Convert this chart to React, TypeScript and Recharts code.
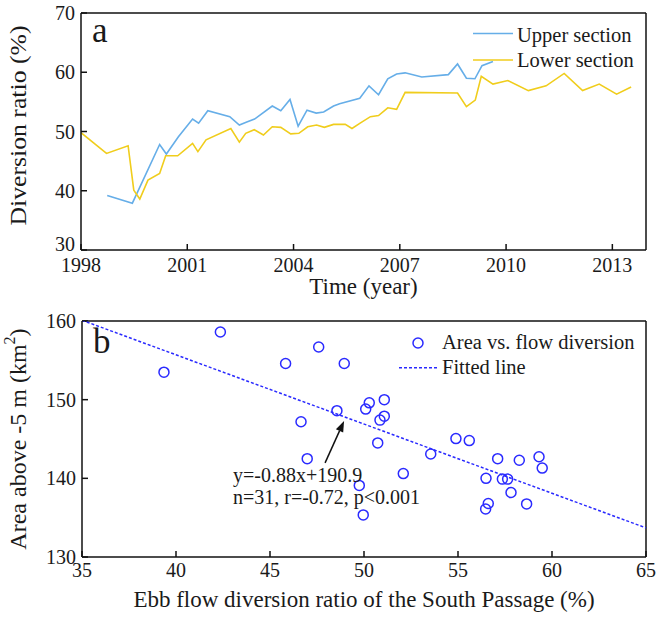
import React from 'react';
import {
  LineChart,
  Line,
  XAxis,
  YAxis,
  ComposedChart,
  Scatter,
  Legend,
  ReferenceLine,
  ReferenceDot,
} from 'recharts';

// ---------- Panel a data ----------
const upperYears = [1998.74, 1999.45, 2000.22, 2000.41, 2000.75, 2001.15, 2001.32, 2001.58, 2002.2, 2002.47, 2002.68, 2002.9, 2003.4, 2003.64, 2003.9, 2004.13, 2004.38, 2004.64, 2004.85, 2005.13, 2005.3, 2005.87, 2006.13, 2006.4, 2006.66, 2006.91, 2007.15, 2007.62, 2008.37, 2008.63, 2008.88, 2009.12, 2009.32, 2009.63];
const upperValues = [39.2, 37.9, 47.8, 46.2, 49.1, 52.1, 51.4, 53.5, 52.5, 51.1, 51.6, 52.1, 54.3, 53.5, 55.4, 50.9, 53.6, 53.1, 53.3, 54.3, 54.7, 55.6, 57.7, 56.2, 58.9, 59.7, 59.9, 59.2, 59.6, 61.4, 59.0, 58.9, 61.1, 61.8];

const lowerYears = [1998.0, 1998.72, 1999.33, 1999.49, 1999.66, 1999.89, 2000.22, 2000.39, 2000.73, 2001.15, 2001.3, 2001.53, 2002.23, 2002.47, 2002.65, 2002.89, 2003.15, 2003.4, 2003.64, 2003.92, 2004.15, 2004.4, 2004.65, 2004.87, 2005.13, 2005.46, 2005.65, 2005.88, 2006.17, 2006.4, 2006.66, 2006.91, 2007.15, 2008.63, 2008.88, 2009.13, 2009.3, 2009.63, 2010.05, 2010.63, 2011.13, 2011.64, 2012.16, 2012.63, 2013.12, 2013.53];
const lowerValues = [49.8, 46.3, 47.6, 40.1, 38.6, 41.8, 42.9, 45.9, 45.9, 48.0, 46.6, 48.6, 50.5, 48.2, 49.7, 50.3, 49.4, 50.8, 50.7, 49.6, 49.7, 50.8, 51.1, 50.7, 51.2, 51.2, 50.5, 51.4, 52.5, 52.7, 54.0, 53.75, 56.6, 56.5, 54.2, 55.3, 59.3, 58.0, 58.6, 56.9, 57.7, 59.8, 56.9, 58.0, 56.3, 57.5];

const yearTicks = [1998, 2001, 2004, 2007, 2010, 2013];
const ratioTicks = [30, 40, 50, 60, 70];

// ---------- Panel b data ----------
const flowRatios = [39.36, 42.36, 45.83, 47.59, 48.95, 46.65, 48.56, 46.98, 50.28, 50.09, 51.08, 51.08, 50.85, 50.73, 52.09, 49.75, 49.96, 53.55, 54.89, 55.6, 57.11, 56.49, 57.36, 57.64, 57.82, 58.26, 58.65, 56.61, 56.47, 59.31, 59.48];
const areas = [153.5, 158.6, 154.6, 156.7, 154.6, 147.2, 148.6, 142.5, 149.6, 148.8, 150.0, 147.9, 147.4, 144.5, 140.6, 139.1, 135.35, 143.1, 145.05, 144.8, 142.5, 140.0, 139.9, 139.9, 138.2, 142.3, 136.75, 136.8, 136.1, 142.75, 141.3];

const fitSlope = -0.88;
const fitIntercept = 190.9;
const fitX = [35, 65];

const flowTicks = [35, 40, 45, 50, 55, 60, 65];
const areaTicks = [130, 140, 150, 160];

// ---------- built tables ----------
const upperData = upperYears.map((y, i) => ({ year: y, v: upperValues[i] }));
const lowerData = lowerYears.map((y, i) => ({ year: y, v: lowerValues[i] }));
const scatterData = flowRatios.map((x, i) => ({ x, y: areas[i] }));
const fitData = fitX.map((x) => ({ x, y: fitSlope * x + fitIntercept }));

// ---------- styles ----------
const FONT = '"Liberation Serif", "Times New Roman", Times, serif';
const TXT = '#1a1a1a';
const BLUE = '#66aee8';
const YELLOW = '#f0cd1c';
const MARK = '#2a2aff';
const AX = '#111';

const tickStyle = { fill: TXT, fontSize: 20, fontFamily: FONT };

// left tick of panel a: lowest label lifted slightly so it clears the year labels
const RatioTick = (p: any) => {
  const lift = p.payload && p.payload.value === ratioTicks[0] ? -6 : 0;
  return (
    <text
      x={p.x}
      y={p.y + lift}
      textAnchor="end"
      dominantBaseline="central"
      fill={TXT}
      fontSize={20}
      fontFamily={FONT}
    >
      {p.payload ? p.payload.value : ''}
    </text>
  );
};

const yLabel = (content: React.ReactNode, shift: number, textLength?: number) => (props: any) => {
  const vb = props.viewBox || {};
  const cx = 18;
  const cy = vb.y + vb.height / 2 + shift;
  const extra: any = textLength ? { textLength, lengthAdjust: 'spacingAndGlyphs' } : {};
  return (
    <text
      x={cx}
      y={cy}
      transform={`rotate(-90, ${cx}, ${cy})`}
      textAnchor="middle"
      dominantBaseline="central"
      fill={TXT}
      fontSize={24}
      fontFamily={FONT}
      {...extra}
    >
      {content}
    </text>
  );
};

const xLabel = (text: string, dy: number) => (props: any) => {
  const vb = props.viewBox || {};
  return (
    <text
      x={vb.x + vb.width / 2}
      y={vb.y + dy}
      textAnchor="middle"
      fill={TXT}
      fontSize={23}
      fontFamily={FONT}
    >
      {text}
    </text>
  );
};

const Arrow = (p: any) => {
  const { x1, y1, x2, y2 } = p;
  const dx = x2 - x1;
  const dy = y2 - y1;
  const len = Math.hypot(dx, dy) || 1;
  const ux = dx / len;
  const uy = dy / len;
  const hl = 11;
  const hw = 4;
  const bx = x2 - ux * hl;
  const by = y2 - uy * hl;
  const px = -uy;
  const py = ux;
  return (
    <g>
      <line x1={x1} y1={y1} x2={bx} y2={by} stroke={AX} strokeWidth={1.5} />
      <polygon
        points={`${x2},${y2} ${bx + px * hw},${by + py * hw} ${bx - px * hw},${by - py * hw}`}
        fill={AX}
      />
    </g>
  );
};

const OpenCircle = (p: any) => (
  <circle cx={p.cx} cy={p.cy} r={5} fill="none" stroke={MARK} strokeWidth={1.5} />
);

const TopLegend = () => (
  <svg width={190} height={56} style={{ display: 'block' }}>
    <line x1={5} y1={15.5} x2={45} y2={15.5} stroke={BLUE} strokeWidth={1.6} />
    <text x={49} y={24} fill={TXT} fontSize={20.5} fontFamily={FONT}>
      Upper section
    </text>
    <line x1={5} y1={42} x2={45} y2={42} stroke={YELLOW} strokeWidth={1.6} />
    <text x={49} y={49} fill={TXT} fontSize={20.5} fontFamily={FONT}>
      Lower section
    </text>
  </svg>
);

const BottomLegend = () => (
  <svg width={262} height={56} style={{ display: 'block' }}>
    <circle cx={28} cy={18} r={5} fill="none" stroke={MARK} strokeWidth={1.5} />
    <text x={52} y={24} fill={TXT} fontSize={20.5} fontFamily={FONT}>
      Area vs. flow diversion
    </text>
    <line x1={9} y1={42.7} x2={48} y2={42.7} stroke={MARK} strokeWidth={1.5} strokeDasharray="3 2" />
    <text x={52} y={49} fill={TXT} fontSize={20.5} fontFamily={FONT}>
      Fitted line
    </text>
  </svg>
);

export default function App() {
  return (
    <div style={{ position: 'absolute', left: 0, top: 0, width: 658, height: 617, background: '#fff' }}>
      {/* Panel a */}
      <div style={{ position: 'absolute', left: 0, top: 0 }}>
        <LineChart width={658} height={300} margin={{ top: 12, right: 11, left: 0, bottom: 0 }}>
          <XAxis
            xAxisId={0}
            type="number"
            dataKey="year"
            domain={[1998, 2013.95]}
            allowDataOverflow
            ticks={yearTicks}
            height={50}
            tickSize={-6}
            tickMargin={14}
            tick={tickStyle}
            axisLine={{ stroke: AX, strokeWidth: 1.5 }}
            tickLine={{ stroke: AX, strokeWidth: 1.5 }}
            label={xLabel('Time (year)', 44)}
          />
          <XAxis
            xAxisId="top"
            orientation="top"
            type="number"
            dataKey="year"
            domain={[1998, 2013.95]}
            allowDataOverflow
            ticks={yearTicks}
            height={1}
            tickSize={-6}
            tick={false}
            axisLine={{ stroke: AX, strokeWidth: 1.5 }}
            tickLine={{ stroke: AX, strokeWidth: 1.5 }}
          />
          <YAxis
            yAxisId={0}
            type="number"
            domain={[30, 70]}
            allowDataOverflow
            ticks={ratioTicks}
            width={81}
            tickSize={-6}
            tickMargin={12}
            tick={RatioTick}
            axisLine={{ stroke: AX, strokeWidth: 1.5 }}
            tickLine={{ stroke: AX, strokeWidth: 1.5 }}
            label={yLabel('Diversion ratio (%)', -6, 200)}
          />
          <YAxis
            yAxisId="right"
            orientation="right"
            type="number"
            domain={[30, 70]}
            allowDataOverflow
            ticks={ratioTicks}
            width={1}
            tickSize={-6}
            tick={false}
            axisLine={{ stroke: AX, strokeWidth: 1.5 }}
            tickLine={{ stroke: AX, strokeWidth: 1.5 }}
          />
          <Line
            data={upperData}
            dataKey="v"
            xAxisId={0}
            yAxisId={0}
            stroke={BLUE}
            strokeWidth={1.6}
            dot={false}
            isAnimationActive={false}
            name="Upper section"
          />
          <Line
            data={lowerData}
            dataKey="v"
            xAxisId={0}
            yAxisId={0}
            stroke={YELLOW}
            strokeWidth={1.6}
            dot={false}
            isAnimationActive={false}
            name="Lower section"
          />
          <ReferenceDot
            x={1998}
            y={70}
            xAxisId={0}
            yAxisId={0}
            r={0}
            shape={(p: any) => (
              <text x={p.cx + 11} y={p.cy + 29} fill={TXT} fontSize={35} fontFamily={FONT}>
                a
              </text>
            )}
          />
          <Legend
            layout="vertical"
            align="center"
            verticalAlign="middle"
            wrapperStyle={{ position: 'absolute', left: 468, top: 18, width: 190, height: 56 }}
            content={() => <TopLegend />}
          />
        </LineChart>
      </div>

      {/* Panel b */}
      <div style={{ position: 'absolute', left: 0, top: 300 }}>
        <ComposedChart width={658} height={317} margin={{ top: 20, right: 11, left: 0, bottom: 0 }}>
          <XAxis
            xAxisId={0}
            type="number"
            dataKey="x"
            domain={[35, 65]}
            allowDataOverflow
            ticks={flowTicks}
            height={60}
            tickSize={-6}
            tickMargin={12}
            tick={tickStyle}
            axisLine={{ stroke: AX, strokeWidth: 1.5 }}
            tickLine={{ stroke: AX, strokeWidth: 1.5 }}
            label={xLabel('Ebb flow diversion ratio of the South Passage (%)', 50)}
          />
          <XAxis
            xAxisId="top"
            orientation="top"
            type="number"
            dataKey="x"
            domain={[35, 65]}
            allowDataOverflow
            ticks={flowTicks}
            height={1}
            tickSize={-6}
            tick={false}
            axisLine={{ stroke: AX, strokeWidth: 1.5 }}
            tickLine={{ stroke: AX, strokeWidth: 1.5 }}
          />
          <YAxis
            yAxisId={0}
            type="number"
            dataKey="y"
            domain={[130, 160]}
            allowDataOverflow
            ticks={areaTicks}
            width={82}
            tickSize={-6}
            tickMargin={12}
            tick={tickStyle}
            axisLine={{ stroke: AX, strokeWidth: 1.5 }}
            tickLine={{ stroke: AX, strokeWidth: 1.5 }}
            label={yLabel(
              <>
                Area above -5 m (km
                <tspan dy={-9} fontSize={16}>
                  2
                </tspan>
                <tspan dy={9}>)</tspan>
              </>,
              0
            )}
          />
          <YAxis
            yAxisId="right"
            orientation="right"
            type="number"
            domain={[130, 160]}
            allowDataOverflow
            ticks={areaTicks}
            width={1}
            tickSize={-6}
            tick={false}
            axisLine={{ stroke: AX, strokeWidth: 1.5 }}
            tickLine={{ stroke: AX, strokeWidth: 1.5 }}
          />
          <Scatter
            data={fitData}
            xAxisId={0}
            yAxisId={0}
            line={{ stroke: MARK, strokeWidth: 1.5, strokeDasharray: '3 2' }}
            shape={() => <g />}
            isAnimationActive={false}
            name="Fitted line"
          />
          <Scatter
            data={scatterData}
            xAxisId={0}
            yAxisId={0}
            shape={OpenCircle}
            isAnimationActive={false}
            name="Area vs. flow diversion"
          />
          <ReferenceLine
            xAxisId={0}
            yAxisId={0}
            segment={[
              { x: 47.93, y: 141.96 },
              { x: 48.94, y: 147.3 },
            ]}
            shape={Arrow}
          />
          <ReferenceDot
            x={43.03}
            y={139.54}
            xAxisId={0}
            yAxisId={0}
            r={0}
            shape={(p: any) => (
              <g>
                <text x={p.cx} y={p.cy} fill={TXT} fontSize={20} fontFamily={FONT}>
                  y=-0.88x+190.9
                </text>
                <text x={p.cx} y={p.cy + 22} fill={TXT} fontSize={20} fontFamily={FONT}>
                  n=31, r=-0.72, p&lt;0.001
                </text>
              </g>
            )}
          />
          <ReferenceDot
            x={35}
            y={160}
            xAxisId={0}
            yAxisId={0}
            r={0}
            shape={(p: any) => (
              <text x={p.cx + 11} y={p.cy + 32} fill={TXT} fontSize={35} fontFamily={FONT}>
                b
              </text>
            )}
          />
          <Legend
            layout="vertical"
            align="center"
            verticalAlign="middle"
            wrapperStyle={{ position: 'absolute', left: 390, top: 25, width: 262, height: 56 }}
            content={() => <BottomLegend />}
          />
        </ComposedChart>
      </div>
    </div>
  );
}
